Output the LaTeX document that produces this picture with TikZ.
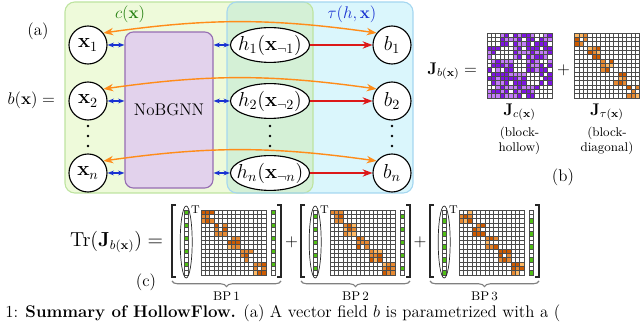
\documentclass[tikz,border=0pt]{standalone}
\usepackage{amsmath,amssymb}
\usetikzlibrary{shapes.geometric,arrows.meta,positioning,decorations.pathreplacing,calc}
\usepackage{xcolor}
\definecolor{cLime}{RGB}{238,250,218}
\definecolor{cLimeLine}{RGB}{190,228,160}
\definecolor{cSky}{RGB}{218,246,252}
\definecolor{cSkyLine}{RGB}{165,215,240}
\definecolor{cMix}{RGB}{212,240,214}
\definecolor{cLilac}{RGB}{226,210,236}
\definecolor{cLilacLine}{RGB}{150,110,178}
\definecolor{cArrOrange}{RGB}{255,140,25}
\definecolor{cArrRed}{RGB}{220,25,25}
\definecolor{cArrBlue}{RGB}{25,50,210}
\definecolor{cLabGreen}{RGB}{40,130,20}
\definecolor{cViolet}{RGB}{125,20,225}
\definecolor{cViolLight}{RGB}{195,125,248}
\definecolor{cOrDark}{RGB}{205,90,0}
\definecolor{cOrLight}{RGB}{255,185,100}
\definecolor{cLeaf}{RGB}{80,190,20}
\tikzset{
  varnode/.style={circle,draw=black,thick,fill=white,minimum size=0.95cm,
                  inner sep=0pt,font=\Large},
  hnode/.style={ellipse,draw=black,thick,fill=white,minimum width=1.975cm,
                minimum height=0.87cm,inner sep=0pt},
  hname/.style={font=\Large,inner sep=0pt},
  gnnbox/.style={rectangle,rounded corners=6pt,draw=cLilacLine,fill=cLilac,thick,
                 minimum width=2.2cm,minimum height=3.9cm,font=\large},
  region/.style={rounded corners=7pt,thick},
  vecring/.style={ellipse,draw=black!85,line width=0.5pt,minimum width=0.3cm,
                  minimum height=1.8cm,inner sep=0pt},
  cell/.style={draw=black!70,line width=0.25pt},
  bracket/.style={line width=0.9pt,draw=black!85},
  bracebar/.style={decorate,decoration={brace,mirror,amplitude=4pt},draw=black!50,thick},
  cmparr/.style={<->,>={Stealth[length=7pt]},line width=1pt,color=cArrOrange},
  gnnarr/.style={<->,>={Stealth[length=4.5pt]},thick,color=cArrBlue},
  outarr/.style={->,>={Stealth[length=7pt]},thick,color=cArrRed}
}
\newcommand{\cellsz}{4.333}
\newcommand{\hollowgrid}[1]{%
  \foreach \rr in {0,...,14}{
    \foreach \cc in {0,...,14}{
      \pgfmathtruncatemacro\inblk{div(\rr,3)==div(\cc,3)}
      \pgfmathtruncatemacro\vv{mod(3*\rr*\rr+5*\cc*\cc+7*\rr*\cc+11*\rr+2*\cc+#1,13)}
      \pgfmathtruncatemacro\pa{100*(\vv<6)}
      \pgfmathtruncatemacro\pb{100*(1-\inblk)*(\vv<10)}
      \filldraw[cell,fill=cViolet!\pa!cViolLight!\pb!white]
        (\cc*\cellsz,-\rr*\cellsz) rectangle ++(\cellsz,-\cellsz);
    }
  }
}
\newcommand{\diaggrid}[1]{%
  \foreach \rr in {0,...,14}{
    \foreach \cc in {0,...,14}{
      \pgfmathtruncatemacro\inblk{div(\rr,3)==div(\cc,3)}
      \pgfmathtruncatemacro\vv{mod(2*\rr*\rr+3*\cc*\cc+5*\rr*\cc+\rr+4*\cc+#1,7)}
      \pgfmathtruncatemacro\pa{{100,100,50,50,50,0,0}[\vv]}
      \pgfmathtruncatemacro\pb{100*\inblk*(\vv<6)}
      \filldraw[cell,fill=cOrDark!\pa!cOrLight!\pb!white]
        (\cc*\cellsz,-\rr*\cellsz) rectangle ++(\cellsz,-\cellsz);
    }
  }
}
\newcommand{\leafvec}[1]{%
  \foreach \rr in {0,...,14}{
    \pgfmathtruncatemacro\pb{100*(mod(\rr,3)==#1)}
    \filldraw[cell,fill=cLeaf!\pb!white] (0,-\rr*\cellsz) rectangle ++(\cellsz,-\cellsz);
  }
}

\begin{document}
\begin{tikzpicture}[x=0.025cm,y=0.025cm]
  \useasboundingbox (0,0) rectangle (640,322);
  \clip (0,0) rectangle (640,322);

  % (a) regions c(x) and tau(h,x)
  \fill[region,cLime] (65,129) rectangle (313,320);
  \fill[region,cSky] (227,129) rectangle (413,320);
  \begin{scope}[rounded corners=7pt]
    \clip (65,129) rectangle (313,320);
    \fill[cMix] (227,129) rectangle (413,320);
  \end{scope}
  \draw[region,cLimeLine] (65,129) rectangle (313,320);
  \draw[region,cSkyLine] (227,129) rectangle (413,320);

  \node[text=cLabGreen,font=\large] (clab) at (130,308) {$c(\mathbf{x})$};
  \node[text=cArrBlue,font=\large] (tlab) at (352,308) {$\tau(h,\mathbf{x})$};
  \node[font=\large] (laba) at (38,291) {(a)};
  \node[anchor=east,font=\large] (bx) at (60,222) {$b(\mathbf{x}) =$};

  \node[gnnbox] (gnn) at (169,212) {NoBGNN};

  \node[varnode] (x1) at (88,277) {$\mathbf{x}_1$};
  \node[varnode] (x2) at (88,221) {$\mathbf{x}_2$};
  \node[varnode] (xn) at (88,149) {$\mathbf{x}_n$};
  \node[hnode,label={[hname]center:{$h_1(\mathbf{x}_{\neg 1})$}}] (h1) at (270,277) {};
  \node[hnode,label={[hname]center:{$h_2(\mathbf{x}_{\neg 2})$}}] (h2) at (270,221) {};
  \node[hnode,label={[hname]center:{$h_n(\mathbf{x}_{\neg n})$}}] (hn) at (270,149) {};
  \node[varnode] (b1) at (392,277) {$b_1$};
  \node[varnode] (b2) at (392,221) {$b_2$};
  \node[varnode] (bn) at (392,149) {$b_n$};
  \foreach \px in {88,270,392}
    \foreach \k in {0,1,2}
      \fill (\px,196-\k*10) circle (1.4);

  \foreach \i in {1,2,n}{
    \draw[cmparr] (x\i.38) to[bend left=8] (b\i.142);
    \draw[gnnarr] (x\i.east) -- (x\i.east -| gnn.west);
    \draw[gnnarr] (gnn.east |- h\i.west) -- (h\i.west);
    \draw[outarr] (h\i.east) -- (b\i.west);
  }

  % (b) Jacobian split
  \node[anchor=east,font=\large] (jb) at (482,251) {$\mathbf{J}_{b(\mathbf{x})} =$};
  \begin{scope}[shift={(487,289)}] \hollowgrid{7} \end{scope}
  \node[font=\large] (plusb) at (563.5,252) {$+$};
  \begin{scope}[shift={(574.5,289)}] \diaggrid{5} \end{scope}
  \node[font=\large] (jc) at (519.5,210) {$\mathbf{J}_{c(\mathbf{x})}$};
  \node[font=\small,align=center] (jcl) at (519.5,181) {(block-\\hollow)};
  \node[font=\large] (jt) at (607,210) {$\mathbf{J}_{\tau(\mathbf{x})}$};
  \node[font=\small,align=center] (jtl) at (607,181) {(block-\\diagonal)};
  \node[font=\large] (labb) at (563,145) {(b)};

  % (c) trace as sum of backward passes
  \node[anchor=east,font=\fontsize{13.4}{16}\selectfont] (trj) at (168,80)
    {$\mathrm{Tr}(\mathbf{J}_{b(\mathbf{x})}) =$};
  \node[font=\large] (labc) at (146,40) {(c)};
  \foreach \k/\lab/\sd in {0/1/1,1/2/3,2/3/6}{
    \begin{scope}[shift={(\k*129,0)}]
      \begin{scope}[shift={(184,112)}] \leafvec{\k} \end{scope}
      \node[vecring] (ring\lab) at (186.2,80) {};
      \node[font=\footnotesize,inner sep=0pt] (tp\lab) at (195.5,112.5) {T};
      \begin{scope}[shift={(201,112)}] \diaggrid{\sd} \end{scope}
      \begin{scope}[shift={(271,112)}] \leafvec{\k} \end{scope}
      \draw[bracket] (176,117) -- (172,117) -- (172,45) -- (176,45);
      \draw[bracket] (277,117) -- (281,117) -- (281,45) -- (277,45);
      \coordinate (bpl\lab) at (172,41);
      \coordinate (bpr\lab) at (281,41);
      \draw[bracebar] (bpl\lab) -- (bpr\lab);
      \node[font=\small] (bp\lab) at (226.5,26) {BP\,\lab};
    \end{scope}
  }
  \node[font=\large] (plus1) at (291.5,80) {$+$};
  \node[font=\large] (plus2) at (420,80) {$+$};

  \node[anchor=base west,inner sep=0pt,font=\large] (cap) at (5,4.5)
    {1: \textbf{Summary of HollowFlow.} (a) A vector field $b$ is parametrized with a (};
\end{tikzpicture}
\end{document}
